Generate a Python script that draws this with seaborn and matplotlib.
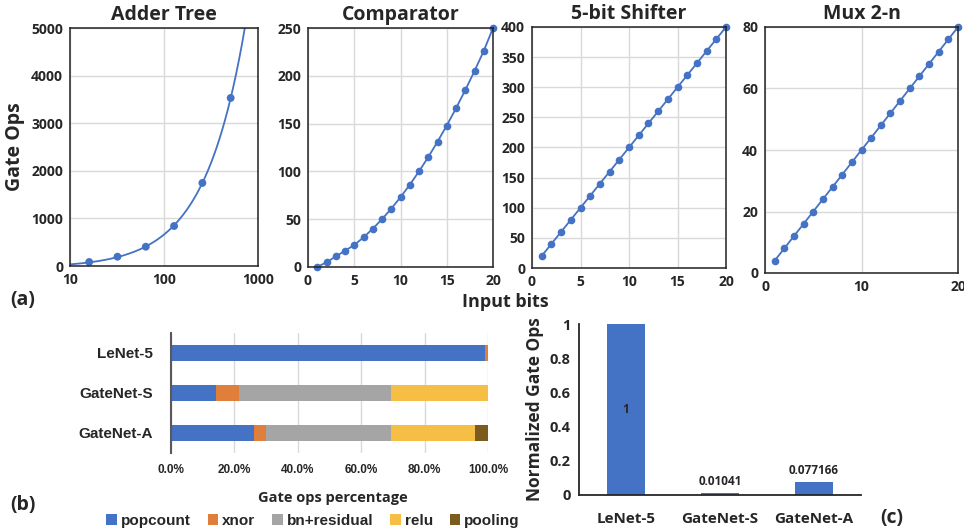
import numpy as np
import pandas as pd
import matplotlib
matplotlib.use("Agg")
import matplotlib.pyplot as plt
import seaborn as sns
from matplotlib.patches import Patch

# ---- data ----
adder_bits = [16, 32, 64, 128, 256, 512]
adder_ops = [84, 195, 405, 840, 1745, 3530]

bits = list(range(1, 21))
comparator_ops = [0, 5, 11, 17, 23, 31, 40, 50, 61, 73, 86, 100, 115, 131, 148, 166, 185, 205, 226, 250]
shifter_ops = [20, 40, 60, 80, 100, 120, 140, 160, 180, 200, 220, 240, 260, 280, 300, 320, 340, 360, 380, 400]
mux_ops = [4, 8, 12, 16, 20, 24, 28, 32, 36, 40, 44, 48, 52, 56, 60, 64, 68, 72, 76, 80]

models = ["LeNet-5", "GateNet-S", "GateNet-A"]
parts = ["popcount", "xnor", "bn+residual", "relu", "pooling"]
popcount = [99.2, 14.2, 26.2]
xnor = [0.8, 7.4, 3.8]
bn_residual = [0.0, 47.9, 39.5]
relu = [0.0, 30.5, 26.5]
pooling = [0.0, 0.0, 4.0]

norm_ops = [1, 0.01041, 0.077166]
norm_labels = ["1", "0.01041", "0.077166"]

blue = "#4472C4"
part_colors = ["#4472C4", "#E07E3C", "#A5A5A5", "#F6BE45", "#7B5C1E"]

sns.set_theme(style="white")
TOP_FONT = ["Open Sans", "DejaVu Sans"]
ARIAL = ["Liberation Sans", "DejaVu Sans"]
plt.rcParams["font.family"] = TOP_FONT
plt.rcParams["font.weight"] = "bold"

W, H = 964, 529
fig = plt.figure(figsize=(W / 100, H / 100), dpi=100)


def box(x0, y0, x1, y1):
    # axes placed by pixel edges measured on the reference
    return fig.add_axes([x0 / W, 1 - y1 / H, (x1 - x0) / W, (y1 - y0) / H])


def style_top(ax, title):
    ax.set_title(title, fontsize=14, fontweight="bold", pad=6)
    ax.grid(True, color="#d9d9d9", linewidth=1)
    for s in ax.spines.values():
        s.set_visible(True)
        s.set_color("#222222")
        s.set_linewidth(1.1)
    ax.tick_params(labelsize=10, length=0, pad=5)
    for lab in ax.get_xticklabels() + ax.get_yticklabels():
        lab.set_fontweight("bold")
    ax.set_xlabel("")
    ax.set_ylabel("")


line_kw = dict(color=blue, marker="o", markersize=5.5, markeredgewidth=0, linewidth=1.3)

# ---- (a) Adder tree, log x with linear trend ----
ax1 = box(70, 28, 258, 266)
fit = np.polyfit(adder_bits, adder_ops, 1)
xs = np.geomspace(10, 1000, 200)
ax1.plot(xs, np.polyval(fit, xs), color=blue, linewidth=1.3)
sns.scatterplot(x=adder_bits, y=adder_ops, ax=ax1, color=blue, s=32, edgecolor="none")
ax1.set_xscale("log")
ax1.set_xlim(10, 1000)
ax1.set_ylim(0, 5000)
ax1.set_xticks([10, 100, 1000])
ax1.set_xticklabels(["10", "100", "1000"])
ax1.set_yticks(range(0, 5001, 1000))
ax1.minorticks_off()
style_top(ax1, "Adder Tree")
ax1.set_ylabel("Gate Ops", fontsize=14, fontweight="bold", labelpad=4)

# ---- Comparator ----
ax2 = box(308, 28, 493, 267)
sns.lineplot(x=bits, y=comparator_ops, ax=ax2, **line_kw)
ax2.set_xlim(0, 20)
ax2.set_ylim(0, 250)
ax2.set_xticks(range(0, 21, 5))
ax2.set_yticks(range(0, 251, 50))
style_top(ax2, "Comparator")

# ---- 5-bit shifter ----
ax3 = box(532, 27, 726, 268)
sns.lineplot(x=bits, y=shifter_ops, ax=ax3, **line_kw)
ax3.set_xlim(0, 20)
ax3.set_ylim(0, 400)
ax3.set_xticks(range(0, 21, 5))
ax3.set_yticks(range(0, 401, 50))
style_top(ax3, "5-bit Shifter")

# ---- Mux 2-n ----
ax4 = box(765, 27, 958, 273)
sns.lineplot(x=bits, y=mux_ops, ax=ax4, **line_kw)
ax4.set_xlim(0, 20)
ax4.set_ylim(0, 80)
ax4.set_xticks([0, 10, 20])
ax4.set_yticks(range(0, 81, 20))
style_top(ax4, "Mux 2-n")

for ax in (ax2, ax3, ax4):
    for ln in ax.lines:
        ln.set_clip_on(False)

fig.text(505 / W, 1 - 302 / H, "Input bits", fontsize=13, fontweight="bold", ha="center", va="center")
fig.text(10 / W, 1 - 300 / H, "(a)", fontsize=14, fontweight="bold", ha="left", va="center")

# ---- (b) stacked horizontal bars (cumulative, drawn back to front) ----
axb = box(171, 333, 488, 453)
df = pd.DataFrame({"model": models, "popcount": popcount, "xnor": xnor,
                   "bn+residual": bn_residual, "relu": relu, "pooling": pooling})
cum = df[parts].cumsum(axis=1)
for part, col in reversed(list(zip(parts, part_colors))):
    sns.barplot(x=cum[part], y=df["model"], ax=axb, orient="h", color=col,
                width=0.42, saturation=1, edgecolor="none")
axb.set_xlim(0, 100)
axb.set_xticks(range(0, 101, 20))
axb.set_xticklabels([f"{v:.1f}%" for v in range(0, 101, 20)])
axb.grid(axis="x", color="#d9d9d9", linewidth=1)
axb.set_axisbelow(True)
for side in ("top", "right", "bottom"):
    axb.spines[side].set_visible(False)
axb.spines["left"].set_color("#595959")
axb.spines["left"].set_linewidth(1.5)
axb.tick_params(axis="x", length=0, pad=8)
axb.tick_params(axis="y", length=0, pad=13)
axb.set_ylabel("")
axb.set_xlabel("")
for lab in axb.get_xticklabels():
    lab.set_fontfamily(ARIAL)
    lab.set_fontsize(8.5)
    lab.set_fontweight("bold")
for lab in axb.get_yticklabels():
    lab.set_fontfamily(ARIAL)
    lab.set_fontsize(11)
    lab.set_fontweight("bold")
fig.text(333 / W, 1 - 498 / H, "Gate ops percentage", fontsize=10.5, fontweight="bold",
         ha="center", va="center")

handles = [Patch(facecolor=c, edgecolor="none") for c in part_colors]
fig.legend(handles, parts, loc="center", bbox_to_anchor=(313 / W, 1 - 521 / H), ncol=5,
           frameon=False, handlelength=0.7, handleheight=0.7, handletextpad=0.25,
           columnspacing=1.1, prop={"family": ARIAL, "weight": "bold", "size": 11})
fig.text(10 / W, 1 - 505 / H, "(b)", fontsize=14, fontweight="bold", ha="left", va="center")

# ---- (c) normalized gate ops ----
axc = box(579, 324, 861, 495)
sns.barplot(x=models, y=norm_ops, ax=axc, color=blue, width=0.4, saturation=1, edgecolor="none")
axc.set_xlim(-0.5, 2.5)
axc.set_ylim(0, 1)
axc.set_yticks([0, 0.2, 0.4, 0.6, 0.8, 1])
axc.set_yticklabels(["0", "0.2", "0.4", "0.6", "0.8", "1"])
for side in ("top", "right"):
    axc.spines[side].set_visible(False)
for side in ("left", "bottom"):
    axc.spines[side].set_color("#262626")
    axc.spines[side].set_linewidth(1.3)
axc.tick_params(length=0)
axc.tick_params(axis="x", pad=12, labelsize=11)
axc.tick_params(axis="y", pad=6, labelsize=10.5)
for lab in axc.get_xticklabels() + axc.get_yticklabels():
    lab.set_fontweight("bold")
axc.set_ylabel("Normalized Gate Ops", fontsize=12.5, fontweight="bold", labelpad=4)
axc.text(0, 0.5, norm_labels[0], ha="center", va="center", fontsize=8.5, fontweight="bold")
for i in (1, 2):
    axc.text(i, norm_ops[i] + 0.03, norm_labels[i], ha="center", va="bottom", fontsize=8.5, fontweight="bold")
fig.text(880 / W, 1 - 518 / H, "(c)", fontsize=14, fontweight="bold", ha="left", va="center")

fig.savefig("out.png", dpi=100)
